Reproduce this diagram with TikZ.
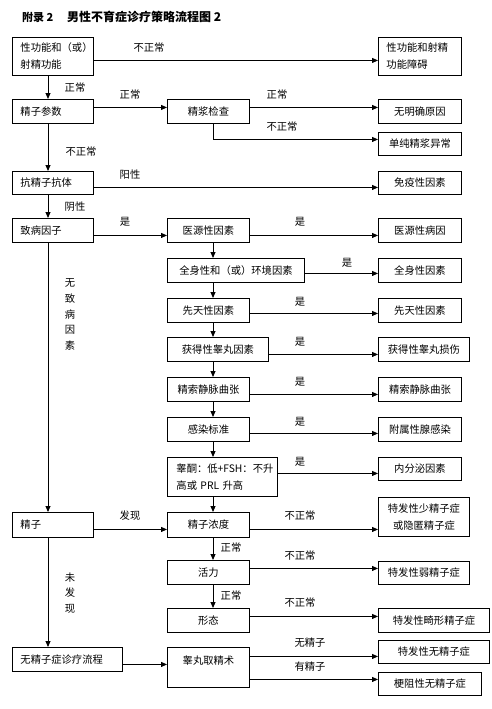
\documentclass[tikz,border=0pt]{standalone}
\usepackage{fontspec}
\setmainfont{Noto Sans CJK SC}
\usetikzlibrary{arrows.meta}
\newcommand\boxfont{\fontsize{10.3}{17}\selectfont}
\newcommand\titlefont{\fontsize{11}{13}\selectfont\bfseries}
\newcommand\bigtitlefont{\fontsize{12}{14}\selectfont\bfseries}
\tikzset{
  box/.style={draw, line width=0.9pt, inner sep=0pt, anchor=north west, font=\boxfont, align=center},
  lbox/.style={box, align=left, inner xsep=8pt},
  lab/.style={font=\boxfont, inner sep=0pt},
  vlab/.style={font=\fontsize{10.3}{15.7}\selectfont, inner sep=0pt, align=center},
  conn/.style={line width=0.9pt, -{Triangle[length=6pt,width=5pt]}},
  ttl/.style={font=\titlefont, inner sep=0pt, anchor=west},
  bttl/.style={font=\bigtitlefont, inner sep=0pt, anchor=west},
}
\begin{document}
\begin{tikzpicture}[x=1pt,y=-1pt]
\fill[white] (0,0) rectangle (492,709);
\useasboundingbox (0,0) rectangle (492,709);
% title
\node[ttl] (t1) at (22,17) {附录 2};
\node[bttl] (t2) at (67,17) {男性不育症诊疗策略流程图 2};
% column coordinates
\coordinate (cL) at (48,0);
\coordinate (cM) at (213,0);
% left column
\node[lbox, text width=65pt, minimum height=38pt] (A) at (12,37) {性功能和（或）\\射精功能};
\node[lbox, text width=65pt, minimum height=24pt] (B) at (12,99) {精子参数};
\node[lbox, text width=65pt, minimum height=23pt] (D) at (12,171) {抗精子抗体};
\node[lbox, text width=65pt, minimum height=24pt] (E) at (12,218) {致病因子};
\node[lbox, text width=65pt, minimum height=25pt] (M) at (12,512) {精子};
\node[lbox, text width=94pt, minimum height=24pt] (Q) at (12,647) {无精子症诊疗流程};
% middle column
\node[box, minimum width=82pt, minimum height=24pt] (C) at (167,99) {精浆检查};
\node[box, minimum width=82pt, minimum height=24pt] (F) at (167,218) {医源性因素};
\node[box, minimum width=137pt, minimum height=24pt] (G) at (167,258) {全身性和（或）环境因素};
\node[box, minimum width=82pt, minimum height=24pt] (H) at (167,298) {先天性因素};
\node[box, minimum width=101pt, minimum height=24pt] (I) at (167,337) {获得性睾丸因素};
\node[box, minimum width=82pt, minimum height=24pt] (J) at (167,377) {精索静脉曲张};
\node[box, minimum width=82pt, minimum height=24pt] (K) at (167,417) {感染标准};
\node[lbox, inner xsep=9pt, text width=92pt, minimum height=39pt] (L) at (167,457) {睾酮：低+FSH：不升\\高或 PRL 升高};
\node[box, minimum width=82pt, minimum height=25pt] (N) at (167,512) {精子浓度};
\node[box, minimum width=82pt, minimum height=24pt] (O) at (167,560) {活力};
\node[box, minimum width=82pt, minimum height=24pt] (P) at (167,608) {形态};
\node[box, minimum width=82pt, minimum height=40pt] (R) at (167,647) {};
\node[lab] (Rt) at ([yshift=-14pt]R.north) {睾丸取精术};
% right column
\node[lbox, text width=67pt, minimum height=38pt] (RA) at (378,37) {性功能和射精\\功能障碍};
\node[box, minimum width=83pt, minimum height=24pt] (R1) at (378,99) {无明确原因};
\node[box, minimum width=83pt, minimum height=23pt] (R2) at (378,132) {单纯精浆异常};
\node[box, minimum width=83pt, minimum height=23pt] (R3) at (378,171) {免疫性因素};
\node[box, minimum width=83pt, minimum height=24pt] (R4) at (378,218) {医源性病因};
\node[box, minimum width=83pt, minimum height=24pt] (R5) at (378,258) {全身性因素};
\node[box, minimum width=83pt, minimum height=24pt] (R6) at (378,298) {先天性因素};
\node[box, minimum width=91pt, minimum height=24pt] (R7) at (378,337) {获得性睾丸损伤};
\node[box, minimum width=83pt, minimum height=24pt] (R8) at (378,377) {精索静脉曲张};
\node[box, minimum width=83pt, minimum height=24pt] (R9) at (378,417) {附属性腺感染};
\node[box, minimum width=83pt, minimum height=23pt] (R10) at (378,457) {内分泌因素};
\node[box, minimum width=91pt, minimum height=39pt] (R11) at (378,497) {特发性少精子症\\或隐匿精子症};
\node[box, minimum width=91pt, minimum height=23pt] (R12) at (378,561) {特发性弱精子症};
\node[box, minimum width=111pt, minimum height=24pt] (R13) at (378,608) {特发性畸形精子症};
\node[box, minimum width=111pt, minimum height=23pt] (R14) at (378,640) {特发性无精子症};
\node[box, minimum width=103pt, minimum height=23pt] (R15) at (378,672) {梗阻性无精子症};
% vertical connectors
\draw[conn] (A.south -| cL) -- (B.north -| cL);
\draw[conn] (B.south -| cL) -- (D.north -| cL);
\draw[conn] (D.south -| cL) -- (E.north -| cL);
\draw[conn] (E.south -| cL) -- (M.north -| cL);
\draw[conn] (M.south -| cL) -- (Q.north -| cL);
\draw[conn] (F.south -| cM) -- (G.north -| cM);
\draw[conn] (G.south -| cM) -- (H.north -| cM);
\draw[conn] (H.south -| cM) -- (I.north -| cM);
\draw[conn] (I.south -| cM) -- (J.north -| cM);
\draw[conn] (J.south -| cM) -- (K.north -| cM);
\draw[conn] (K.south -| cM) -- (L.north -| cM);
\draw[conn] (L.south -| cM) -- (N.north -| cM);
\draw[conn] (N.south -| cM) -- (O.north -| cM);
\draw[conn] (O.south -| cM) -- (P.north -| cM);
% horizontal connectors
\draw[conn] ([yshift=-4pt]A.east) -- ([yshift=-4pt]A.east -| RA.west);
\draw[conn] ([yshift=4pt]B.east) -- ([yshift=4pt]B.east -| C.west);
\draw[conn] ([yshift=4pt]C.east) -- ([yshift=4pt]C.east -| R1.west);
\draw[conn] (C.south -| cM) |- ([yshift=4.5pt]R2.west);
\draw[conn] ([yshift=-4.5pt]D.east) -- ([yshift=-4.5pt]D.east -| R3.west);
\draw[conn] ([yshift=-5pt]E.east) -- ([yshift=-5pt]E.east -| F.west);
\draw[conn] ([yshift=-5pt]F.east) -- ([yshift=-5pt]F.east -| R4.west);
\draw[conn] ([yshift=-3pt]G.east) -- ([yshift=-3pt]G.east -| R5.west);
\draw[conn] ([yshift=-3pt]H.east) -- ([yshift=-3pt]H.east -| R6.west);
\draw[conn] ([yshift=-5pt]I.east) -- ([yshift=-5pt]I.east -| R7.west);
\draw[conn] ([yshift=-5pt]J.east) -- ([yshift=-5pt]J.east -| R8.west);
\draw[conn] ([yshift=-4pt]K.east) -- ([yshift=-4pt]K.east -| R9.west);
\draw[conn] ([yshift=3.5pt]L.east) -- ([yshift=3.5pt]L.east -| R10.west);
\draw[conn] ([yshift=-4.5pt]M.east) -- ([yshift=-4.5pt]M.east -| N.west);
\draw[conn] ([yshift=-4.5pt]N.east) -- ([yshift=-4.5pt]N.east -| R11.west);
\draw[conn] ([yshift=4pt]O.east) -- ([yshift=4pt]O.east -| R12.west);
\draw[conn] ([yshift=4pt]P.east) -- ([yshift=4pt]P.east -| R13.west);
\draw[conn] ([yshift=-5pt]Q.east) -- ([yshift=-5pt]Q.east -| R.west);
\draw[conn] ([yshift=11pt]R.east) -- ([yshift=11pt]R.east -| R14.west);
\draw[conn] ([yshift=-12pt]R.east) -- ([yshift=-12pt]R.east -| R15.west);
% labels
\node[lab] (l1) at (149,48) {不正常};
\node[lab] (l2) at (75,88) {正常};
\node[lab] (l3) at (130,95) {正常};
\node[lab] (l4) at (277,95) {正常};
\node[lab] (l5) at (282,127) {不正常};
\node[lab] (l6) at (81,152) {不正常};
\node[lab] (l7) at (130,175) {阳性};
\node[lab] (l8) at (75,207) {阴性};
\node[lab] (l9) at (125,222) {是};
\node[lab] (l10) at (300,222) {是};
\node[lab] (l11) at (347,263) {是};
\node[lab] (l12) at (300,302) {是};
\node[lab] (l13) at (300,342) {是};
\node[lab] (l14) at (300,382) {是};
\node[lab] (l15) at (300,422) {是};
\node[lab] (l16) at (300,462) {是};
\node[lab] (l17) at (130,516) {发现};
\node[lab] (l18) at (300,516) {不正常};
\node[lab] (l19) at (231,548) {正常};
\node[lab] (l20) at (300,556) {不正常};
\node[lab] (l21) at (231,596) {正常};
\node[lab] (l22) at (300,603) {不正常};
\node[lab] (l23) at (310,643) {无精子};
\node[lab] (l24) at (310,667) {有精子};
\node[vlab] (v1) at (70,314.5) {无\\致\\病\\因\\素};
\node[vlab] (v2) at (70,593) {未\\发\\现};
\end{tikzpicture}
\end{document}
